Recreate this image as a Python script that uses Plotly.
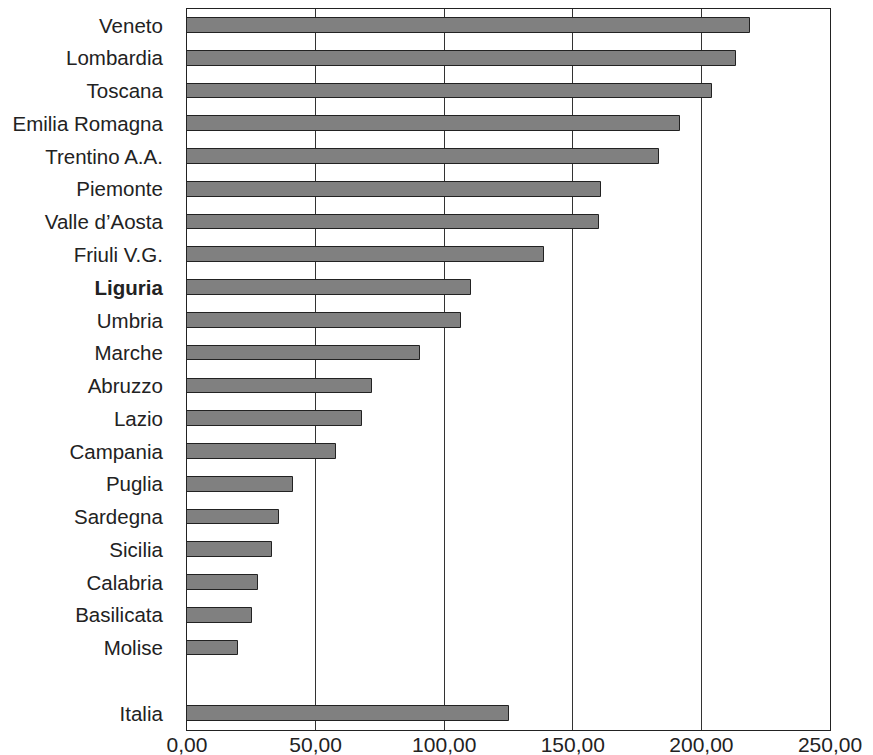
import plotly.graph_objects as go

regions = ["Veneto", "Lombardia", "Toscana", "Emilia Romagna", "Trentino A.A.",
           "Piemonte", "Valle d\u2019Aosta", "Friuli V.G.", "Liguria", "Umbria",
           "Marche", "Abruzzo", "Lazio", "Campania", "Puglia", "Sardegna",
           "Sicilia", "Calabria", "Basilicata", "Molise", "", "Italia"]
values = [218.7, 213.3, 204.1, 191.8, 183.4, 161.1, 160.3, 138.8, 110.4, 106.7,
          90.5, 71.9, 68.2, 58.1, 41.4, 35.9, 32.9, 27.5, 25.3, 20.0, None, 125.0]
x_ticks = [0, 50, 100, 150, 200, 250]
x_ticktext = ["0,00", "50,00", "100,00", "150,00", "200,00", "250,00"]

positions = list(range(len(regions)))
ticktext = ["<b>%s</b>" % r if r == "Liguria" else r for r in regions]

fig = go.Figure()
fig.add_trace(go.Bar(
    x=values, y=positions, orientation="h", width=0.45,
    marker=dict(color="#808080", line=dict(color="#222222", width=1)),
    hoverinfo="x+y",
))

fig.update_layout(
    width=865, height=747,
    margin=dict(l=179, r=43, t=1, b=25, autoexpand=False),
    paper_bgcolor="white", plot_bgcolor="white",
    font=dict(family="Liberation Sans, Arial, sans-serif", size=20, color="#222222"),
    separators=",.",
    showlegend=False, bargap=0,
)
fig.update_xaxes(
    range=[0, 250], tickvals=x_ticks, ticktext=x_ticktext,
    tickfont=dict(size=21),
    showgrid=True, gridcolor="#333333", gridwidth=1,
    showline=True, linecolor="#222222", linewidth=1, mirror=True,
    zeroline=False, ticks="", ticklabelstandoff=-4, automargin=False,
)
fig.update_yaxes(
    range=[len(regions) - 0.5, -0.5], tickvals=positions, ticktext=ticktext,
    tickfont=dict(size=20.5),
    showgrid=False, showline=True, linecolor="#222222", linewidth=1, mirror=True,
    zeroline=False, ticks="", ticklabelstandoff=19, automargin=False,
)

fig.write_html("out.html")
